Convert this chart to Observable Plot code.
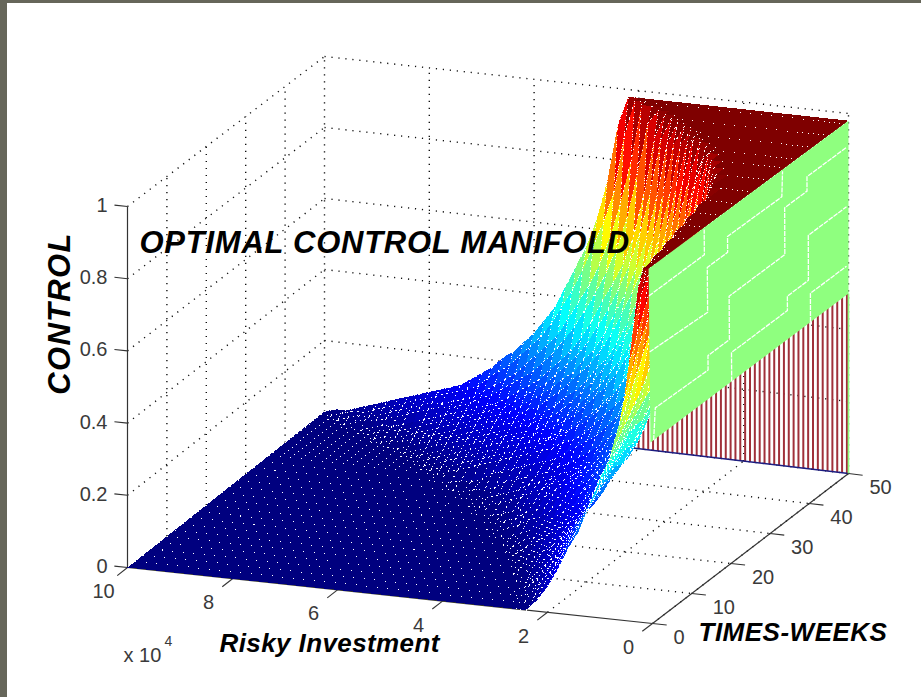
<!DOCTYPE html>
<html><head><meta charset="utf-8">
<style>html,body{margin:0;padding:0;background:#fff;overflow:hidden}</style>
<script src="https://cdn.jsdelivr.net/npm/d3@7"></script>
<script src="https://cdn.jsdelivr.net/npm/@observablehq/plot@0.6"></script>
</head><body><div id="chart"></div>
<script>
// Risky investment (x 10^4) grid, time grid and control (percent).
const wealth = [0,.1,.2,.3,.4,.5,.6,.8,1,1.2,1.4,1.6,1.8,2,2.2,2.4,2.6,2.8,3,3.2,3.4,3.6,3.8,4,4.2,4.4,4.6,4.8,5,5.2,5.4,5.6,5.8,6,6.2,6.4,6.6,6.8,7,7.2,7.4,7.6,7.8,8,8.2,8.4,8.6,8.8,9,9.2,9.4,9.6,9.8,10];
const weeks = [0,2,4,6,8,10,12,14,16,18,20,22,24,26,28,30,32,34,36,37,38,39,40,41,42,43,44,45,46,47,48,49,50];
const plateau = n => Array(n).fill(98);
// one row per week; columns follow `wealth`; a row's missing tail is zero control
const controlPct = [
[98,98,93,82,71,61,54,44,38,30,23,18,12,7,3,0],
[98,98,96,89,77,67,58,47,40,34,27,21,16,10,6,2,0],
[98,98,98,93,83,73,63,50,42,36,29,23,18,13,8,5,1,0],
[98,98,98,95,88,78,68,53,44,38,32,26,21,16,11,7,4,1,0],
[98,98,98,98,91,82,73,56,47,40,34,28,23,18,14,9,6,3,0],
[98,98,98,98,95,87,76,60,49,42,35,30,25,20,16,12,8,5,3,0],
[...plateau(5),90,81,62,51,43,36,31,26,21,17,13,10,7,5,2,0],
[...plateau(5),94,85,67,53,43,36,30,26,21,17,14,11,8,6,4,2,0],
[...plateau(6),90,71,57,46,38,32,27,23,19,16,12,10,8,6,4,2,0],
[...plateau(6),94,76,60,48,40,33,28,24,20,17,14,11,9,7,5,3,2,0],
[...plateau(7),82,65,52,43,36,30,26,22,19,16,13,11,9,7,5,3,2,0],
[...plateau(7),90,73,59,48,40,34,28,25,22,19,16,13,11,9,7,5,4,2,1,0],
[...plateau(7),94,81,65,53,44,37,32,27,24,21,18,15,13,11,9,7,5,4,2,1,0],
[...plateau(8),89,72,58,48,41,35,30,26,23,20,17,15,13,11,9,7,5,4,2,1,0],
[...plateau(8),94,82,65,54,45,38,33,28,24,21,19,16,14,12,10,9,7,6,4,3,2,1,0],
[...plateau(9),87,72,59,50,42,36,31,26,23,20,18,15,13,11,10,8,7,6,4,3,2,1,0],
[...plateau(10),83,69,57,48,41,35,30,26,22,20,17,15,13,11,10,8,7,6,5,4,2,1,1,0],
[...plateau(11),84,71,59,50,42,36,31,27,24,21,18,16,14,12,10,9,8,7,6,5,4,2,1,1,0],
[...plateau(12),87,74,61,52,44,38,32,28,25,22,19,16,14,13,11,10,9,8,7,6,5,4,3,2,1,0],
[...plateau(12),95,84,71,60,51,45,38,33,29,25,22,19,17,15,13,12,10,9,8,7,6,5,4,3,2,1,0],
[...plateau(13),89,78,65,55,47,40,34,30,26,23,20,18,15,14,12,11,10,9,8,7,6,5,4,3,2,1,0],
[...plateau(14),88,76,64,55,48,41,36,31,27,24,21,18,16,14,13,11,10,9,8,7,6,5,4,3,2,1,0],
[...plateau(15),86,73,62,53,46,39,34,30,26,23,20,17,15,14,12,11,10,9,8,7,6,5,4,3,2,1,0],
[...plateau(15),95,83,70,60,52,45,39,34,30,26,23,20,17,15,14,12,11,10,9,8,7,6,5,4,3,2,1,0],
[...plateau(16),94,80,68,58,50,43,37,32,29,25,22,20,17,15,13,12,11,10,9,8,7,6,5,4,3,2,1,0],
[...plateau(17),93,79,66,57,50,44,38,33,29,26,23,20,18,15,14,12,11,10,9,8,7,6,5,4,3,2,1,1,0],
[...plateau(18),92,77,65,56,49,43,37,32,29,25,23,20,18,16,14,12,11,10,9,8,7,6,5,4,3,2,1,1,0],
[...plateau(19),92,77,65,56,49,43,38,33,29,26,23,20,18,16,14,12,11,10,9,8,7,6,5,4,3,2,2,1,0],
[...plateau(20),91,75,63,55,49,44,38,33,29,26,23,20,18,16,14,12,11,10,9,8,7,6,5,4,3,2,2,1,0],
[...plateau(21),94,80,67,58,51,45,40,35,31,27,24,21,19,17,15,13,12,10,9,8,8,7,6,5,4,3,2,2,1,0],
[...plateau(23),82,70,60,52,46,41,36,31,28,25,22,19,17,15,13,11,10,9,8,8,7,6,5,4,3,2,2,1,0],
[...plateau(24),88,72,63,56,49,43,38,33,29,26,23,20,18,16,13,12,11,10,9,8,7,6,5,4,3,2,2,1,0],
[...plateau(25),90,74,63,55,49,43,37,33,29,26,23,21,18,16,14,12,11,10,9,8,7,6,5,4,3,2,1,1,0]
];
// seams on the green wall: [week, control] polylines
const seamA = [[0,.75],[14.6,.74],[14.6,.864],[19.7,.864],[19.7,.908],[33.3,.906],[33.5,.975]];
const seamB = [[0,.905],[13.9,.905],[13.9,.975]];
const seamC = [[.8,.5],[1.3,.585],[14.6,.58],[14.6,.62],[20,.62],[20,.74],[34,.74],[34,.87],[39.6,.87],[39.6,.91],[49.5,.91]];
const seamD = [[20.5,.5],[20.5,.58],[34.6,.58],[34.6,.62],[39.9,.62],[39.9,.745],[49.5,.745]];
const seamE = [[40.4,.5],[40.4,.58],[49.5,.58]];
const wealthTicks = [10,8,6,4,2,0];
const weekTicks = [0,10,20,30,40,50];
const controlTicks = [0,.2,.4,.6,.8,1];
const controlLabels = ["0","0.2","0.4","0.6","0.8","1"];
const jetStops = [0,.125,.375,.625,.875,1];
const jetColors = ["#00007f","#0000ff","#00ffff","#ffff00","#ff0000","#7f0000"];

// View of the box: where its corners fall on the page.
const cam = {
  near0:[652,623], far0:[127,567], back0:[848,473], corner0:[324,411],
  near1:[648,261], far1:[127,206], back1:[848,113], corner1:[324,56]
};
const mix = (a,b,s)=>[a[0]+(b[0]-a[0])*s, a[1]+(b[1]-a[1])*s];
function project(x,t,z){
  const u=x/10, v=t/50;
  const lo=mix(mix(cam.near0,cam.far0,u),mix(cam.back0,cam.corner0,u),v);
  const hi=mix(mix(cam.near1,cam.far1,u),mix(cam.back1,cam.corner1,u),v);
  return mix(lo,hi,z);
}
const pt=(x,t,z,extra)=>{const p=project(x,t,z);return {px:p[0],py:p[1],...extra};};
const seg=(a,b)=>{const p=project(...a),q=project(...b);return {x1:p[0],y1:p[1],x2:q[0],y2:q[1]};};
const ctrl=(i,j)=>(controlPct[i][j]??0)/100;

// surface facets, far to near; each path starts at the facet's far corner
const floorFacets=[], slopeFacets=[], topDotted=[], topPlain=[];
let id=0;
for(let i=weeks.length-2;i>=0;i--){
  for(let j=wealth.length-2;j>=0;j--){
    const c=[ctrl(i+1,j+1),ctrl(i+1,j),ctrl(i,j),ctrl(i,j+1)];
    const mean=d3.mean(c)/.98;
    id++;
    const bin = d3.max(c)===0 ? floorFacets
      : d3.min(c)===.98 ? (weeks[i]%4===0 ? topDotted : topPlain)
      : slopeFacets;
    bin.push(
      pt(wealth[j+1],weeks[i+1],c[0],{id,c:mean}),
      pt(wealth[j],weeks[i+1],c[1],{id,c:mean}),
      pt(wealth[j],weeks[i],c[2],{id,c:mean}),
      pt(wealth[j+1],weeks[i],c[3],{id,c:mean})
    );
  }
}
const wallTop=.98, wallBottom=.5;
const green=[pt(0,0,wallBottom),pt(0,50,wallBottom),pt(0,50,wallTop),pt(0,0,wallTop)];
const seams=[seamA,seamB,seamC,seamD,seamE].flatMap((s,k)=>s.map(([t,z])=>pt(0,t,z,{k})));
const stems=d3.range(.03,4.4,.0925).map(x=>seg([x,50,0],[x,50,.62]));

// dotted box grid
const grid=[];
for(const z of controlTicks.slice(1)){grid.push(seg([10,0,z],[10,50,z]),seg([10,50,z],[0,50,z]));}
for(const t of weekTicks.slice(1)){grid.push(seg([10,t,0],[10,t,1]),seg([10,t,0],[0,t,0]));}
for(const x of wealthTicks.slice(1)){grid.push(seg([x,50,0],[x,50,1]),seg([x,0,0],[x,50,0]));}

const axes=[seg([10,0,0],[0,0,0]),seg([0,0,0],[0,50,0]),seg([10,0,0],[10,0,1])];
const ticks=[
  ...wealthTicks.map(x=>seg([x,0,0],[x,-2.6,0])),
  ...weekTicks.map(t=>seg([0,t,0],[-.27,t,0])),
  ...controlTicks.map(z=>seg([10,0,z],[10.25,0,z]))
];
const tickFont={fontSize:20,fontFamily:"Liberation Sans, Arial, sans-serif",fill:"#3a3a3a",fontVariant:"normal"};
const titleFont={fontFamily:"Liberation Sans, Arial, sans-serif",fontWeight:"bold",fontStyle:"italic",fill:"#000",frameAnchor:"top-left",lineAnchor:"middle"};
const txt=d=>d.s, X=d=>d.px, Y=d=>d.py;
const linkOpts={x1:"x1",y1:"y1",x2:"x2",y2:"y2"};
const facetOpts={x:X,y:Y,z:"id",fill:"c",strokeLinecap:"butt",curve:"linear-closed",shapeRendering:"crispEdges"};
const spacing={"OPTIMAL CONTROL MANIFOLD":.75,"CONTROL":1.3,"Risky Investment":.4,"TIMES-WEEKS":.5};

const chart=Plot.plot({
  width:921,height:697,margin:0,
  x:{domain:[0,921],range:[0,921],axis:null},
  y:{domain:[0,697],range:[0,697],axis:null},
  color:{type:"linear",domain:jetStops,range:jetColors},
  style:{background:"#fff",boxShadow:"inset 7px 3px 0 #66665a"},
  marks:[
    Plot.link(grid,{...linkOpts,stroke:"#111",strokeWidth:1.4,strokeDasharray:"1.2 5.8"}),
    Plot.link(stems,{...linkOpts,stroke:"#a0303a",strokeWidth:2}),
    Plot.link([seg([4.4,50,0],[0,50,0])],{...linkOpts,stroke:"#1c1c80",strokeWidth:1.6}),
    Plot.link([seg([0,50,0],[0,50,.5])],{...linkOpts,stroke:"#8fff7f",strokeWidth:1.6}),
    Plot.link(axes,{...linkOpts,stroke:"#333",strokeWidth:1.2}),
    Plot.link(ticks,{...linkOpts,stroke:"#333",strokeWidth:1.1}),
    Plot.line(floorFacets,{...facetOpts,stroke:"#fff",strokeWidth:1,strokeDasharray:"1 999"}),
    Plot.line(slopeFacets,{...facetOpts,stroke:"#fff",strokeWidth:1,strokeDasharray:"1 4.5"}),
    Plot.line(topPlain,{...facetOpts,stroke:"none"}),
    Plot.line(topDotted,{...facetOpts,stroke:"#fff",strokeWidth:1,strokeDasharray:"1 999"}),
    Plot.line(green,{x:X,y:Y,fill:"#8fff7f",stroke:"none",curve:"linear-closed"}),
    Plot.line(seams,{x:X,y:Y,z:"k",stroke:"#fff",strokeWidth:1.3,strokeDasharray:"5 1",strokeLinecap:"butt",strokeLinejoin:"miter"}),
    Plot.text(wealthTicks.map(x=>pt(x,0,0,{s:String(x)})),{x:X,y:Y,text:txt,dx:-24,dy:24,...tickFont}),
    Plot.text(weekTicks.map(t=>pt(0,t,0,{s:String(t)})),{x:X,y:Y,text:txt,dx:21,dy:14,textAnchor:"start",...tickFont}),
    Plot.text(controlTicks.map((z,i)=>pt(10,0,z,{s:controlLabels[i]})),{x:X,y:Y,text:txt,dx:-20,dy:-1,textAnchor:"end",...tickFont}),
    Plot.text(["OPTIMAL CONTROL MANIFOLD"],{text:d=>d,dx:139,dy:243,textAnchor:"start",fontSize:31,...titleFont}),
    Plot.text(["CONTROL"],{text:d=>d,dx:60,dy:313,rotate:-90,textAnchor:"middle",fontSize:31,...titleFont}),
    Plot.text(["Risky Investment"],{text:d=>d,dx:219,dy:643,textAnchor:"start",fontSize:26,...titleFont}),
    Plot.text(["TIMES-WEEKS"],{text:d=>d,dx:698,dy:632,textAnchor:"start",fontSize:26,...titleFont}),
    Plot.text(["x 10"],{text:d=>d,dx:123,dy:655,textAnchor:"start",frameAnchor:"top-left",lineAnchor:"middle",...tickFont}),
    Plot.text(["4"],{text:d=>d,dx:164,dy:641,textAnchor:"start",frameAnchor:"top-left",lineAnchor:"middle",...tickFont,fontSize:14})
  ]
});
d3.select(chart).selectAll("text").each(function(){
  const s=spacing[this.textContent];
  if(s) this.style.letterSpacing=s+"px";
});
document.getElementById("chart").appendChild(chart);
</script></body></html>
